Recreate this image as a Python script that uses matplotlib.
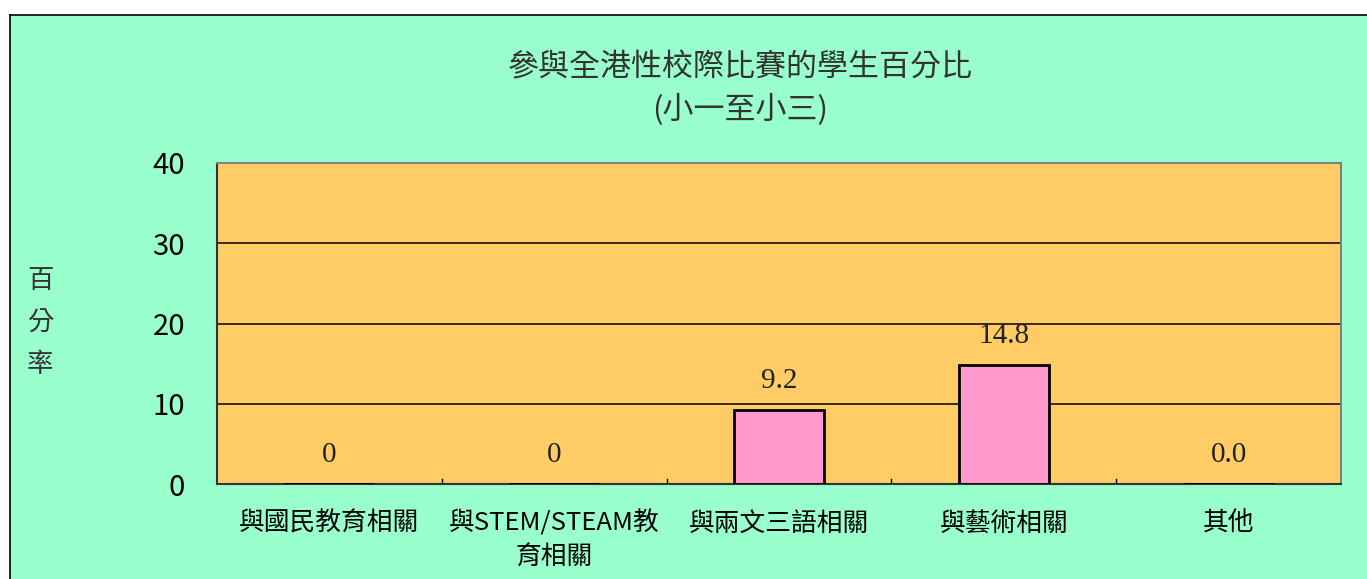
import matplotlib
matplotlib.use("Agg")
import matplotlib.pyplot as plt
from matplotlib.patches import Rectangle
from matplotlib.lines import Line2D

plt.rcParams['font.family'] = ['Noto Sans CJK TC', 'DejaVu Sans']

# data
categories = ["與國民教育相關", "與STEM/STEAM教\n育相關", "與兩文三語相關", "與藝術相關", "其他"]
values = [0, 0, 9.2, 14.8, 0.0]
value_labels = ["0", "0", "9.2", "14.8", "0.0"]
yticks = [0, 10, 20, 30, 40]

W, H = 1367, 579
fig = plt.figure(figsize=(W / 100, H / 100), dpi=100, facecolor='white')

# green panel with black left/top border
fig.patches.append(Rectangle((10 / W, 0), 1 - 10 / W, 1 - 15 / H, transform=fig.transFigure,
                             facecolor='#99ffcc', edgecolor='none', zorder=-5))
fig.lines.append(Line2D([10 / W, 10 / W], [0, 1 - 15 / H], transform=fig.transFigure, color='black', lw=1.2))
fig.lines.append(Line2D([10 / W, 1], [1 - 15 / H, 1 - 15 / H], transform=fig.transFigure, color='black', lw=1.2))

ax = fig.add_axes([217 / W, 1 - 484 / H, (1341 - 217) / W, (484 - 163) / H])
ax.set_zorder(5)
ax.set_facecolor('#ffcc66')

x = list(range(len(categories)))
ax.bar(x, values, width=0.4, color='#ff99cc', edgecolor='black', linewidth=2, zorder=3)
for xi, v, lab in zip(x, values, value_labels):
    ax.annotate(lab, (xi, v), xytext=(0, 21), textcoords='offset points', ha='center', va='center',
                fontsize=21, family='Liberation Serif', color='#222222', zorder=4)

ax.set_xlim(-0.5, len(categories) - 0.5)
ax.set_ylim(0, 40)
ax.set_yticks(yticks)
ax.set_yticklabels([str(t) for t in yticks], fontsize=21, color='black')
ax.tick_params(axis='y', length=0, pad=23)
ax.yaxis.grid(True, color='black', lw=1.1, zorder=1)
ax.set_axisbelow(True)

ax.set_xticks(x)
ax.set_xticklabels(categories, fontsize=18.5, linespacing=1.4, va='top')
ax.tick_params(axis='x', length=0, pad=19)
for b in [i + 0.5 for i in range(len(categories) - 1)]:
    ax.plot([b, b], [0, 0.6], color='black', lw=1, zorder=2)

for s in ['left', 'bottom']:
    ax.spines[s].set_color('#333333')
    ax.spines[s].set_linewidth(1.5)
for s in ['top', 'right']:
    ax.spines[s].set_color('#808080')
    ax.spines[s].set_linewidth(1.5)

fig.text(740 / W, 1 - 68 / H, "參與全港性校際比賽的學生百分比", ha='center', va='center', fontsize=22.3, color='#333333')
fig.text(740 / W, 1 - 110 / H, "(小一至小三)", ha='center', va='center', fontsize=22.3, color='#333333')

for ch, yy in zip("百分率", [280, 323, 365]):
    fig.text(40 / W, 1 - yy / H, ch, ha='center', va='center', fontsize=19, color='#333333')

fig.savefig("out.png", dpi=100, facecolor='white')
